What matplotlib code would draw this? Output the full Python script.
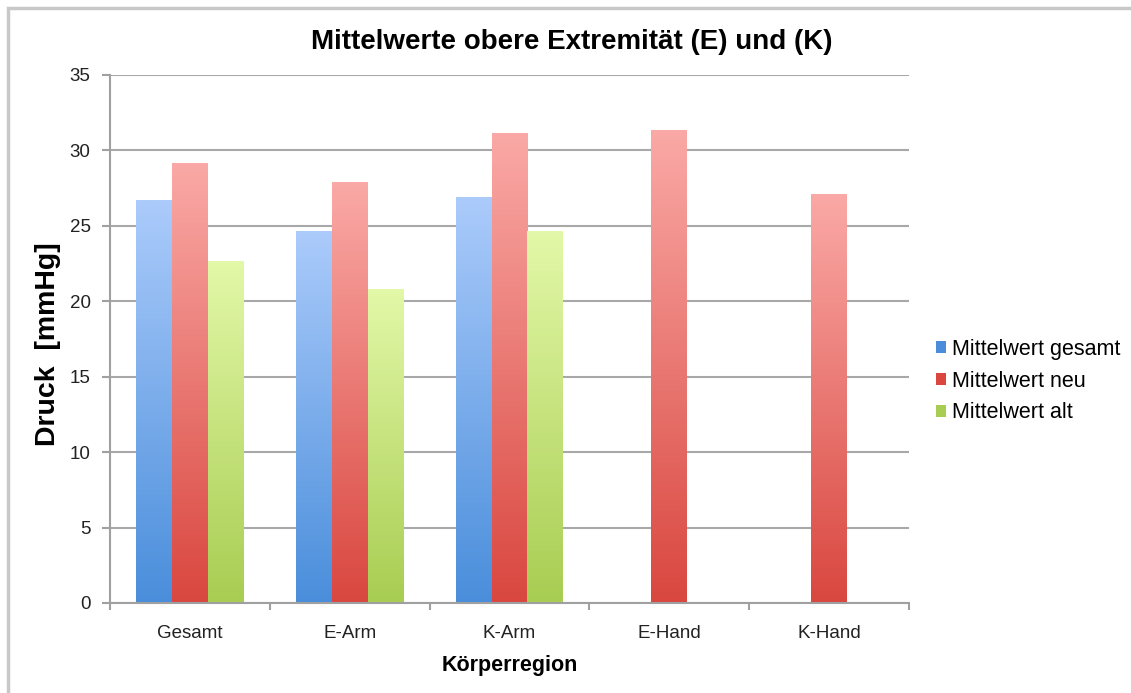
import numpy as np
import matplotlib
matplotlib.use('Agg')
import matplotlib.pyplot as plt
from matplotlib.colors import LinearSegmentedColormap
from matplotlib.patches import Patch, Rectangle

plt.rcParams['font.family'] = ['Liberation Sans', 'DejaVu Sans']

categories = ['Gesamt', 'E-Arm', 'K-Arm', 'E-Hand', 'K-Hand']
series_names = ['Mittelwert gesamt', 'Mittelwert neu', 'Mittelwert alt']
werte_gesamt = [26.7, 24.65, 26.9, 0, 0]
werte_neu = [29.15, 27.85, 31.1, 31.3, 27.05]
werte_alt = [22.65, 20.75, 24.65, 0, 0]

# bottom / top colours of the gradients
grad_colors = [('#4a8edb', '#abcbfb'),
               ('#d9473f', '#faa9a6'),
               ('#a8cd52', '#e3f8a8')]

fig = plt.figure(figsize=(11.31, 6.93), dpi=100)
# outer frame
fig.add_artist(Rectangle((8 / 1131, -0.1), 1.2, 1 - 8 / 693 + 0.1, transform=fig.transFigure,
                         fill=False, edgecolor='#c8c8c8', linewidth=2.5))
ax = fig.add_axes([0.0973, 0.1299, 0.7064, 0.7619])

x = np.arange(len(categories))
w = 0.223
all_vals = [werte_gesamt, werte_neu, werte_alt]
for i, vals in enumerate(all_vals):
    bars = ax.bar(x + (i - 1) * w, vals, w, color='none', edgecolor='none', zorder=2)
    cmap = LinearSegmentedColormap.from_list('g%d' % i, grad_colors[i])
    grad = np.linspace(0, 1, 256).reshape(-1, 1)
    for b in bars:
        h = b.get_height()
        if h <= 0:
            continue
        x0 = b.get_x()
        ax.imshow(grad, extent=[x0, x0 + b.get_width(), 0, h], origin='lower',
                  aspect='auto', cmap=cmap, zorder=2, interpolation='bilinear')

ax.set_xlim(-0.5, len(categories) - 0.5)
ax.set_ylim(0, 35)
ax.set_yticks(range(0, 36, 5))
ax.set_xticks(x)
ax.set_xticklabels(categories)
ax.set_xticks(np.arange(-0.5, len(categories), 1), minor=True)
ax.tick_params(axis='x', which='major', length=0, pad=16, labelsize=13.5, labelcolor='#222222')
ax.tick_params(axis='x', which='minor', length=5, width=1.5, color='#a0a0a0')
ax.tick_params(axis='y', length=6, width=1.5, color='#a0a0a0', labelsize=13.5,
               labelcolor='#222222', pad=8)

ax.grid(axis='y', color='#a8a8a8', linewidth=1.5, zorder=0)
ax.set_axisbelow(True)
for s in ['top', 'right']:
    ax.spines[s].set_visible(False)
for s in ['left', 'bottom']:
    ax.spines[s].set_color('#a0a0a0')
    ax.spines[s].set_linewidth(1.5)

fig.text(572 / 1131, 1 - 42 / 693, 'Mittelwerte obere Extremität (E) und (K)',
         fontsize=20, fontweight='bold', ha='center', va='center')
ax.set_ylabel('Druck  [mmHg]', fontsize=20.5, fontweight='bold')
ax.yaxis.set_label_coords(-0.078, 0.49)
ax.set_xlabel('Körperregion', fontsize=15.5, fontweight='bold')
ax.xaxis.set_label_coords(0.5, -0.119)
ax.xaxis.label.set_va('center')
ax.yaxis.label.set_va('center')

handles = [Patch(facecolor=grad_colors[i][0], label=series_names[i]) for i in range(3)]
fig.legend(handles=handles, loc='center left', bbox_to_anchor=(0.818, 0.45),
           frameon=False, fontsize=15.5, handlelength=0.45, handleheight=0.45,
           handletextpad=0.3, labelspacing=0.5, borderpad=0)

fig.savefig('out.png', dpi=100, facecolor='white')
